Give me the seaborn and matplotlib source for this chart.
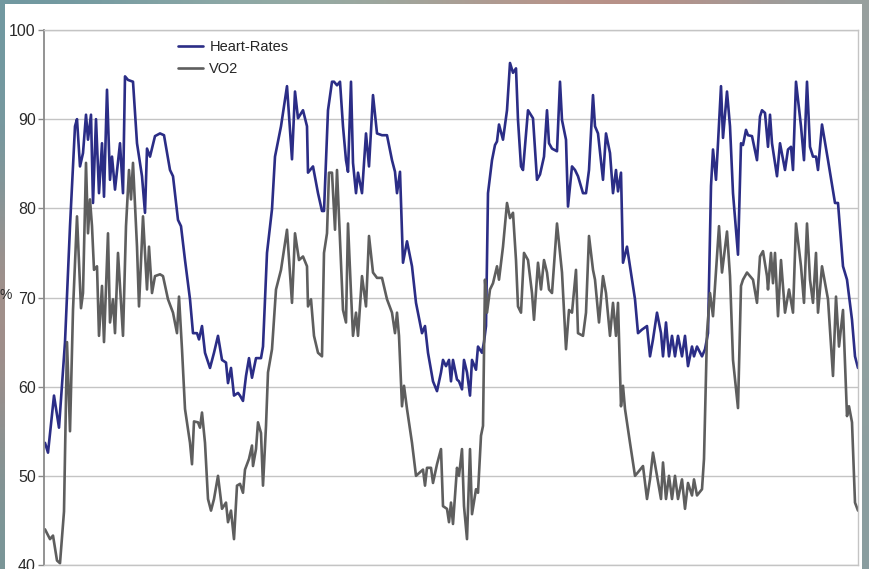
import numpy as np
import pandas as pd
import matplotlib
matplotlib.use("Agg")
import matplotlib.pyplot as plt
from matplotlib.patches import Rectangle
import seaborn as sns

# Elapsed time (s) and heart rate (% of max)
hr_time = [1, 4, 10, 15, 21, 26, 31, 33, 36, 39, 42, 44, 47, 49, 52, 55, 58, 60, 63, 66,
           68, 71, 76, 79, 81, 84, 89, 93, 98, 101, 103, 106, 111, 116, 120, 126, 129, 134,
           137, 141, 146, 149, 153, 155, 158, 161, 166, 170, 174, 178, 182, 184, 187, 190,
           194, 196, 199, 202, 205, 208, 212, 217, 219, 223, 228, 231, 237, 243, 248, 251,
           254, 259, 263, 264, 269, 274, 278, 280, 284, 288, 290, 293, 296, 299, 302, 304,
           307, 309, 312, 314, 318, 322, 325, 329, 333, 338, 343, 348, 351, 353, 356, 359,
           363, 368, 372, 378, 381, 384, 389, 393, 397, 399, 402, 405, 407, 409, 413, 415,
           418, 420, 423, 426, 428, 432, 434, 438, 440, 442, 444, 448, 451, 453, 455, 459,
           463, 466, 469, 472, 474, 477, 479, 484, 489, 493, 496, 500, 503, 505, 508, 513,
           516, 518, 522, 524, 528, 531, 534, 539, 542, 545, 549, 551, 554, 559, 562, 566,
           569, 572, 574, 577, 579, 583, 586, 591, 594, 598, 603, 606, 609, 613, 617, 619,
           622, 625, 628, 631, 634, 638, 641, 644, 648, 650, 653, 658, 661, 664, 667, 669,
           672, 674, 677, 679, 683, 686, 689, 694, 697, 699, 702, 704, 708, 713, 716, 718,
           721, 724, 726, 728, 733, 736, 741, 744, 747, 749, 752, 757, 760, 763, 766, 769,
           772, 774, 778, 784, 791, 794, 799, 803, 808, 811, 814]
hr = [53.7, 52.6, 59.0, 55.4, 65.0, 78.0, 89.2, 90.0, 84.7, 86.2, 90.5, 87.7, 90.5, 80.6,
      90.0, 81.7, 87.3, 81.3, 93.3, 83.2, 85.8, 82.1, 87.3, 81.7, 94.8, 94.4, 94.2, 87.3,
      83.6, 79.5, 86.7, 85.8, 88.1, 88.4, 88.2, 84.3, 83.6, 78.7, 78.0, 74.2, 69.8, 66.0,
      66.0, 65.3, 66.8, 63.8, 62.1, 63.8, 65.7, 63.0, 62.7, 60.4, 62.1, 59.0, 59.3, 59.0,
      58.4, 61.2, 63.2, 61.0, 63.2, 63.2, 64.5, 75.0, 79.9, 85.8, 89.2, 93.7, 85.5, 93.1,
      90.1, 91.0, 89.2, 84.0, 84.7, 81.7, 79.7, 79.7, 91.0, 94.2, 94.2, 93.8, 94.2, 89.2,
      85.4, 84.1, 94.2, 85.1, 81.7, 84.0, 81.7, 88.4, 84.7, 92.7, 88.4, 88.2, 88.2, 85.4,
      84.1, 81.7, 84.1, 73.9, 76.3, 73.5, 69.4, 66.0, 66.8, 63.8, 60.6, 59.5, 61.6, 63.0,
      62.3, 63.0, 60.6, 63.0, 60.8, 60.6, 59.7, 63.0, 61.6, 59.0, 63.0, 61.9, 64.5, 63.8,
      65.0, 66.8, 81.7, 85.4, 87.1, 87.5, 89.4, 87.7, 91.0, 96.3, 95.2, 95.7, 89.9, 84.7,
      84.3, 91.0, 90.1, 83.2, 83.8, 85.8, 91.0, 87.3, 86.7, 86.4, 94.2, 89.9, 87.7, 80.2,
      84.7, 84.3, 83.6, 81.7, 81.7, 84.3, 92.7, 89.2, 88.4, 83.2, 88.4, 86.2, 81.7, 84.3,
      81.9, 84.0, 73.9, 75.7, 73.5, 69.8, 66.0, 66.4, 66.8, 63.4, 65.3, 68.3, 66.0, 63.4,
      67.2, 63.4, 65.7, 63.4, 65.7, 63.4, 65.7, 62.3, 64.5, 63.4, 64.5, 63.4, 64.2, 66.0,
      82.5, 86.6, 83.2, 87.3, 93.7, 87.9, 93.1, 89.2, 81.7, 74.8, 87.3, 87.1, 88.8, 88.2,
      88.1, 85.4, 90.3, 91.0, 90.7, 86.9, 90.5, 87.3, 83.6, 87.3, 84.3, 86.6, 86.9, 84.3,
      94.2, 89.2, 85.4, 94.2, 86.9, 85.8, 85.8, 84.3, 89.4, 85.4, 80.6, 80.6, 73.5, 72.0,
      67.5, 63.4, 62.1]

# Elapsed time (s) and oxygen uptake (% of max)
vo2_time = [1, 6, 9, 13, 16, 20, 23, 26, 29, 33, 37, 39, 42, 44, 46, 48, 50, 53, 55, 58,
            60, 64, 66, 69, 71, 74, 79, 82, 85, 87, 89, 93, 95, 99, 103, 105, 108, 111, 116,
            119, 124, 129, 133, 135, 138, 141, 146, 148, 150, 154, 156, 158, 161, 164, 167,
            170, 174, 178, 182, 184, 187, 190, 193, 196, 199, 201, 205, 208, 209, 212, 214,
            217, 219, 222, 224, 228, 232, 237, 243, 248, 251, 255, 259, 263, 264, 267, 270,
            274, 278, 280, 283, 285, 288, 291, 293, 296, 299, 302, 304, 307, 309, 312, 314,
            318, 322, 325, 329, 333, 338, 343, 348, 351, 353, 355, 358, 360, 363, 368, 372,
            376, 379, 381, 383, 387, 389, 393, 397, 399, 403, 405, 407, 409, 413, 415, 418,
            420, 423, 426, 428, 432, 434, 437, 439, 441, 443, 446, 449, 453, 455, 459, 463,
            466, 469, 472, 474, 477, 480, 484, 488, 490, 494, 497, 500, 503, 505, 508, 513,
            518, 522, 525, 528, 532, 534, 539, 542, 545, 549, 551, 555, 559, 562, 566, 569,
            572, 574, 577, 579, 581, 586, 591, 594, 599, 603, 606, 609, 613, 617, 619, 622,
            625, 628, 631, 634, 638, 641, 644, 648, 650, 653, 658, 660, 663, 666, 669, 671,
            675, 678, 683, 686, 689, 694, 697, 699, 703, 706, 709, 713, 716, 719, 723, 724,
            727, 729, 731, 734, 737, 741, 745, 749, 752, 757, 760, 763, 766, 769, 772, 774,
            778, 784, 789, 792, 795, 799, 803, 805, 808, 811, 814]
vo2 = [44.0, 42.9, 43.3, 40.5, 40.2, 46.0, 65.0, 55.0, 68.6, 79.1, 68.8, 70.5, 85.1, 77.2,
       81.0, 78.0, 73.1, 73.5, 65.7, 71.3, 65.0, 77.2, 67.2, 69.8, 66.0, 75.0, 65.7, 78.0,
       84.3, 81.0, 85.1, 75.7, 69.0, 79.1, 70.9, 75.7, 70.5, 72.4, 72.6, 72.4, 69.8, 68.3,
       66.0, 70.1, 64.2, 57.5, 53.7, 51.3, 56.1, 56.0, 55.4, 57.1, 53.7, 47.4, 46.1, 47.4,
       50.0, 46.3, 47.0, 44.8, 46.1, 42.9, 48.9, 49.1, 48.1, 50.7, 51.9, 53.4, 51.1, 53.0,
       56.0, 54.8, 48.9, 55.6, 61.6, 64.2, 70.9, 73.1, 77.6, 69.4, 77.2, 74.2, 74.6, 73.5,
       69.0, 69.8, 65.7, 63.8, 63.4, 75.0, 77.2, 84.0, 84.0, 77.6, 84.3, 76.5, 68.6, 67.2,
       78.3, 70.5, 65.7, 68.3, 65.7, 72.4, 69.0, 76.9, 72.8, 72.2, 72.2, 69.8, 68.3, 66.0,
       68.3, 65.7, 57.8, 60.1, 57.5, 53.7, 50.0, 50.4, 50.7, 48.9, 50.9, 50.9, 49.2, 51.3,
       53.0, 46.6, 46.3, 44.8, 47.0, 44.6, 50.9, 50.0, 53.0, 46.6, 42.9, 53.0, 45.7, 48.5,
       48.1, 54.5, 55.6, 72.0, 68.3, 70.9, 71.6, 73.5, 72.0, 75.7, 80.6, 78.9, 79.5, 74.2,
       69.0, 68.3, 75.0, 74.2, 70.5, 67.5, 73.9, 70.9, 74.2, 72.8, 70.9, 70.5, 78.3, 72.8,
       64.2, 68.6, 68.3, 73.1, 66.0, 65.7, 68.3, 76.9, 73.1, 72.0, 67.2, 72.4, 70.5, 65.7,
       69.4, 65.7, 69.4, 57.8, 60.1, 57.5, 53.7, 50.0, 50.4, 51.1, 47.4, 49.6, 52.6, 50.0,
       47.4, 51.5, 47.4, 50.0, 47.4, 50.0, 47.4, 49.6, 46.3, 49.2, 47.8, 49.6, 47.8, 48.5,
       51.9, 66.0, 70.5, 67.9, 71.3, 78.0, 72.8, 77.4, 72.4, 63.0, 57.6, 71.3, 72.0, 72.8,
       72.4, 72.0, 69.4, 74.6, 75.2, 72.4, 70.9, 75.0, 71.6, 75.0, 67.9, 74.2, 68.3, 70.9,
       68.3, 78.3, 73.5, 69.4, 78.3, 72.0, 69.4, 75.0, 68.3, 73.5, 69.8, 61.2, 70.1, 64.5,
       68.6, 56.7, 57.8, 56.0, 47.0, 46.1]

series_names = ["Heart-Rates", "VO2"]
series_colors = ["#2b2d86", "#5e5e5e"]
y_ticks = [40, 50, 60, 70, 80, 90, 100]

df = pd.concat([
    pd.DataFrame({"t": hr_time, "value": hr, "series": series_names[0]}),
    pd.DataFrame({"t": vo2_time, "value": vo2, "series": series_names[1]}),
], ignore_index=True)

sns.set_theme(style="white")
plt.rcParams["font.family"] = ["Liberation Sans", "DejaVu Sans"]

W, H = 869, 569
fig = plt.figure(figsize=(W / 100, H / 100), dpi=100)

# Blurred photographic backdrop around the white slide panel
bg = fig.add_axes([0, 0, 1, 1], zorder=0)
bg_colors = np.array([
    [[112, 152, 160], [140, 168, 166], [150, 170, 160], [178, 150, 140], [190, 138, 128], [150, 160, 160]],
    [[118, 150, 156], [200, 200, 200], [200, 200, 200], [200, 200, 200], [200, 200, 200], [140, 160, 160]],
    [[168, 140, 132], [200, 200, 200], [200, 200, 200], [200, 200, 200], [200, 200, 200], [145, 160, 160]],
    [[150, 140, 138], [200, 200, 200], [200, 200, 200], [200, 200, 200], [200, 200, 200], [140, 158, 158]],
    [[118, 148, 150], [200, 200, 200], [200, 200, 200], [200, 200, 200], [200, 200, 200], [135, 155, 158]],
], dtype=float) / 255
bg.imshow(bg_colors, extent=[0, 1, 0, 1], aspect="auto", interpolation="bicubic")
bg.add_patch(Rectangle((5 / W, 0), (862 - 5) / W, (H - 4) / H, facecolor="white",
                       edgecolor="none", transform=bg.transAxes))
bg.set_xlim(0, 1)
bg.set_ylim(0, 1)
bg.axis("off")

ax = fig.add_axes([44 / W, (H - 565) / H, (858 - 44) / W, (565 - 30) / H], zorder=1)
ax.set_facecolor("none")

sns.lineplot(data=df, x="t", y="value", hue="series", palette=series_colors,
             estimator=None, sort=False, linewidth=1.9, ax=ax)

ax.set_xlim(0, 814)
ax.set_ylim(40, 100)
ax.set_yticks(y_ticks)
ax.set_yticklabels([str(v) for v in y_ticks], fontsize=11.5, color="#2a2a2a")
ax.set_xticks([])
ax.set_xlabel("")
ax.set_ylabel("")
ax.yaxis.grid(True, color="#c4c4c4", linewidth=1.0)
ax.set_axisbelow(True)
ax.tick_params(axis="y", which="major", left=True, length=4, width=1.0,
               color="#8a8a8a", pad=2)
ax.spines["left"].set_color("#8a8a8a")
ax.spines["left"].set_linewidth(1.3)
for s in ["top", "right", "bottom"]:
    ax.spines[s].set_color("#c4c4c4")
    ax.spines[s].set_linewidth(1.0)

handles, labels = ax.get_legend_handles_labels()
ax.legend(handles, labels, loc="upper left", bbox_to_anchor=(178 / W, 1 - 40 / H),
          bbox_transform=fig.transFigure, frameon=False, fontsize=10.5,
          handlelength=1.7, handletextpad=0.45, labelspacing=0.55,
          borderpad=0, borderaxespad=0)

fig.text(0.0, 1 - 295 / H, "%", fontsize=10, color="#2a2a2a", ha="left", va="center")

fig.savefig("out.png", dpi=100)
